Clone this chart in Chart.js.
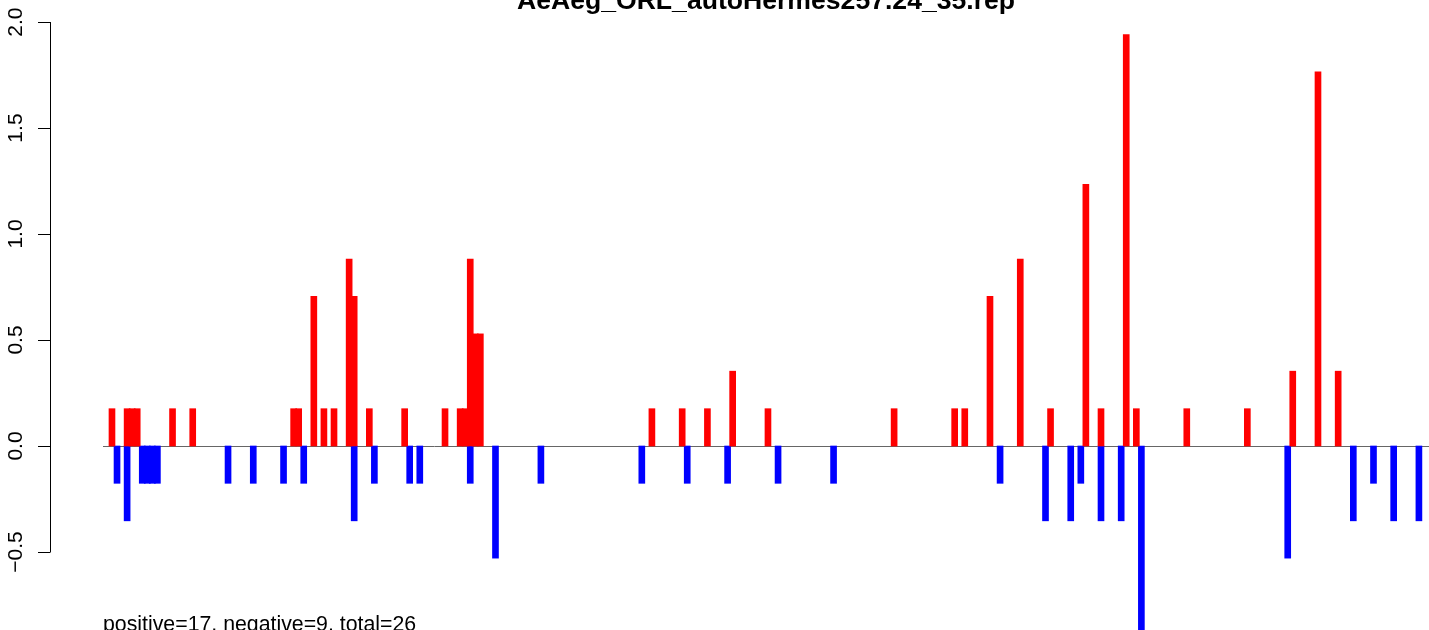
<!DOCTYPE html>
<html>
<head>
<meta charset="utf-8">
<script src="https://cdn.jsdelivr.net/npm/chart.js@4/dist/chart.umd.min.js"></script>
<style>
  html, body { margin: 0; padding: 0; background: #fff; }
  #wrap { width: 1429px; height: 630px; }
</style>
</head>
<body>
<div id="wrap"><canvas id="chart" width="1429" height="630"></canvas></div>
<script>
const TITLE = "AeAeg_ORL_autoHermes257.24_35.rep";
const FOOTNOTE = "positive=17, negative=9, total=26";

// position along the sequence, and score
const posPositions = [1, 4, 5, 6, 13, 17, 37, 38, 41, 43, 45, 48, 49, 52, 59, 67, 70, 71, 72, 73, 74,
  108, 114, 119, 124, 131, 156, 168, 170, 175, 181, 187, 194, 197, 202, 204, 214, 226, 235, 240, 244];
const posValues = [0.176, 0.176, 0.176, 0.176, 0.176, 0.176, 0.176, 0.176, 0.706, 0.176, 0.176, 0.882, 0.706,
  0.176, 0.176, 0.176, 0.176, 0.176, 0.882, 0.529, 0.529,
  0.176, 0.176, 0.176, 0.353, 0.176, 0.176, 0.176, 0.176, 0.706, 0.882, 0.176, 1.235, 0.176, 1.941, 0.176,
  0.176, 0.176, 0.353, 1.765, 0.353];

const negPositions = [2, 4, 7, 8, 9, 10, 24, 29, 35, 39, 49, 53, 60, 62, 72, 77, 86, 106, 115, 123, 133, 144,
  177, 186, 191, 193, 197, 201, 205, 234, 247, 251, 255, 260];
const negValues = [-0.176, -0.353, -0.176, -0.176, -0.176, -0.176, -0.176, -0.176, -0.176, -0.176, -0.353,
  -0.176, -0.176, -0.176, -0.176, -0.529, -0.176, -0.176, -0.176, -0.176, -0.176, -0.176,
  -0.176, -0.353, -0.353, -0.176, -0.353, -0.353, -0.882, -0.529, -0.353, -0.176, -0.353, -0.353];

const yTicks = [-0.5, 0, 0.5, 1.0, 1.5, 2.0];
const yTickLabels = ["\u22120.5", "0.0", "0.5", "1.0", "1.5", "2.0"];

const FONT = "'Liberation Sans', Arial, Helvetica, sans-serif";

function toPoints(xs, ys) {
  return xs.map((x, i) => ({ x: x, y: ys[i] }));
}

// R-style decorations: zero line under the bars, axis / title / footnote on top
const baseGraphics = {
  id: "baseGraphics",
  beforeDatasetsDraw(chart) {
    const ctx = chart.ctx;
    const y = chart.scales.y;
    const area = chart.chartArea;
    const py = Math.round(y.getPixelForValue(0)) + 0.5;

    ctx.save();
    ctx.strokeStyle = "#666666";
    ctx.lineWidth = 1;
    ctx.beginPath();
    ctx.moveTo(area.left, py);
    ctx.lineTo(area.right, py);
    ctx.stroke();
    ctx.restore();
  },
  afterDatasetsDraw(chart) {
    const ctx = chart.ctx;
    const y = chart.scales.y;
    const area = chart.chartArea;
    const axisX = 50;

    ctx.save();

    // y axis
    ctx.strokeStyle = "#000";
    ctx.lineWidth = 1;
    ctx.beginPath();
    ctx.moveTo(axisX + 0.5, y.getPixelForValue(yTicks[0]));
    ctx.lineTo(axisX + 0.5, y.getPixelForValue(yTicks[yTicks.length - 1]));
    yTicks.forEach(t => {
      const py = Math.round(y.getPixelForValue(t)) + 0.5;
      ctx.moveTo(axisX + 0.5, py);
      ctx.lineTo(axisX - 12, py);
    });
    ctx.stroke();

    ctx.fillStyle = "#000";
    ctx.font = "21px " + FONT;
    ctx.textAlign = "center";
    ctx.textBaseline = "alphabetic";
    yTicks.forEach((t, i) => {
      ctx.save();
      ctx.translate(21.5, y.getPixelForValue(t));
      ctx.rotate(-Math.PI / 2);
      ctx.fillText(yTickLabels[i], 0, 0);
      ctx.restore();
    });

    // title (partly off the top edge, as in the source)
    ctx.font = "bold 26.6px " + FONT;
    ctx.textAlign = "center";
    ctx.fillText(TITLE, (area.left + area.right) / 2, 9);

    // footnote
    ctx.font = "21.3px " + FONT;
    ctx.textAlign = "left";
    ctx.fillText(FOOTNOTE, 103, 631);

    ctx.restore();
  }
};

const ctx = document.getElementById("chart").getContext("2d");

new Chart(ctx, {
  type: "bar",
  data: {
    datasets: [
      {
        label: "positive",
        data: toPoints(posPositions, posValues),
        backgroundColor: "#FF0000",
        borderWidth: 0,
        barThickness: 6,
        grouped: false
      },
      {
        label: "negative",
        data: toPoints(negPositions, negValues),
        backgroundColor: "#0000FF",
        borderWidth: 0,
        barThickness: 6,
        grouped: false
      }
    ]
  },
  options: {
    responsive: false,
    animation: false,
    layout: { padding: { left: 103, right: 0, top: 0, bottom: 0 } },
    plugins: {
      legend: { display: false },
      tooltip: { enabled: false },
      title: { display: false }
    },
    scales: {
      x: {
        type: "linear",
        display: false,
        offset: false,
        min: -0.78,
        max: 262
      },
      y: {
        type: "linear",
        display: false,
        min: -0.868,
        max: 2.104
      }
    }
  },
  plugins: [baseGraphics]
});
</script>
</body>
</html>
